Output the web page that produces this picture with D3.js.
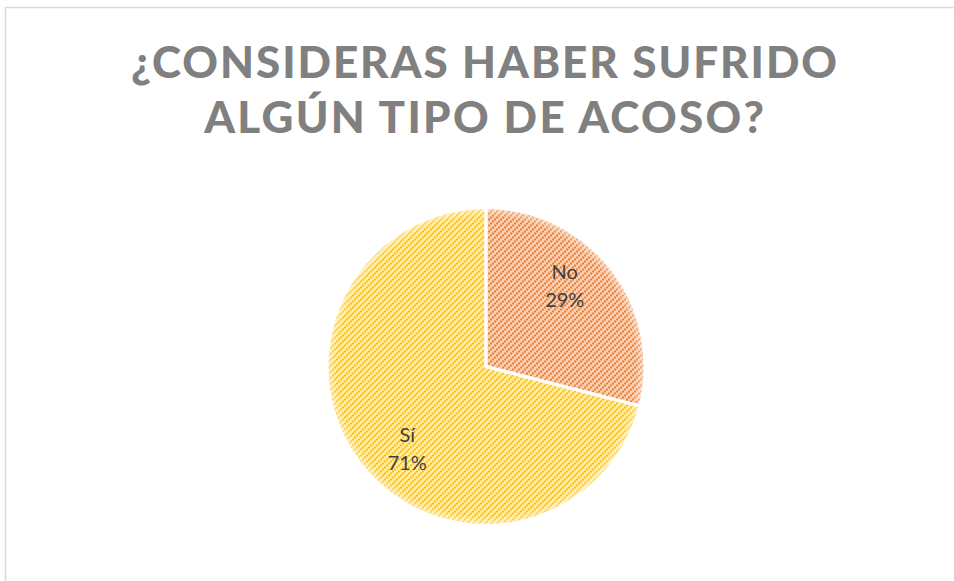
<!DOCTYPE html>
<html><head><meta charset="utf-8">
<script src="https://cdn.jsdelivr.net/npm/d3@7"></script>
<style>
html,body{margin:0;padding:0;background:#fff;}
svg{display:block;}
</style></head>
<body>
<svg id="chart" width="954" height="581"></svg>
<script>
const titleLines = ["¿CONSIDERAS HABER SUFRIDO", "ALGÚN TIPO DE ACOSO?"];
const categories = ["No", "Sí"];
const values = [29, 71];
const labels = ["29%", "71%"];
const stripeColors = ["#ED7D31", "#FFC000"];
const baseColors = ["#F9D0B5", "#FFEBAD"];

const W = 954, H = 581;
const svg = d3.select("#chart");

// chart area border
svg.append("rect").attr("x", 5.5).attr("y", 7.5).attr("width", 1000).attr("height", 700)
  .attr("fill", "#fff").attr("stroke", "#d9d9d9").attr("stroke-width", 1.5);

const defs = svg.append("defs");
categories.forEach((c, i) => {
  const p = defs.append("pattern").attr("id", "pat" + i).attr("patternUnits", "userSpaceOnUse")
    .attr("width", 6).attr("height", 6);
  p.append("rect").attr("width", 6).attr("height", 6).attr("fill", baseColors[i]);
  [[0, 4], [2, 2], [4, 0]].forEach(([x, y]) => {
    p.append("rect").attr("x", x).attr("y", y).attr("width", 2).attr("height", 2).attr("fill", stripeColors[i]);
  });
});
const cx = 486, cy = 366.5, R = 159;
const rg = defs.append("radialGradient").attr("id", "soft").attr("gradientUnits", "userSpaceOnUse")
  .attr("cx", 0).attr("cy", 0).attr("r", R);
rg.append("stop").attr("offset", 0.94).attr("stop-color", "#fff").attr("stop-opacity", 0);
rg.append("stop").attr("offset", 1).attr("stop-color", "#fff").attr("stop-opacity", 0.5);

// title
const title = svg.append("g");
const titleY = [78, 133];
const titleWidths = [708, 562];
const titleCenter = 484;
titleLines.forEach((t, i) => {
  const txt = title.append("text").attr("x", titleCenter).attr("y", titleY[i])
    .attr("text-anchor", "middle")
    .style("font-family", "Lato, 'Open Sans', sans-serif")
    .style("font-weight", "900").style("font-size", "44px").attr("fill", "#808080")
    .style("letter-spacing", "0px").text(t);
  const w0 = txt.node().getComputedTextLength();
  const ls = (titleWidths[i] - w0) / t.length;
  txt.style("letter-spacing", ls + "px").attr("x", titleCenter + ls / 2);
});

// pie
const pie = d3.pie().sort(null).value(d => d)(values);
const arc = d3.arc().innerRadius(0).outerRadius(R);
const g = svg.append("g").attr("transform", `translate(${cx},${cy})`);
g.selectAll("path.slice").data(pie).enter().append("path").attr("class", "slice")
  .attr("d", arc).attr("fill", (d, i) => `url(#pat${i})`);
g.selectAll("path.soft").data(pie).enter().append("path").attr("class", "soft")
  .attr("d", arc).attr("fill", "url(#soft)");
g.selectAll("path.sep").data(pie).enter().append("path").attr("class", "sep")
  .attr("d", arc).attr("fill", "none").attr("stroke", "#fff").attr("stroke-width", 3)
  .attr("stroke-linejoin", "round");

// labels
const labelR = 113, adj = -0.14;
pie.forEach((d, i) => {
  const a = (d.startAngle + d.endAngle) / 2 + adj;
  const x = Math.sin(a) * labelR, y = -Math.cos(a) * labelR;
  const t = g.append("text").attr("text-anchor", "middle")
    .style("font-family", "Lato, 'Open Sans', sans-serif")
    .style("font-size", "20px").attr("fill", "#404040");
  t.append("tspan").attr("x", x).attr("y", y - 6).text(categories[i]);
  t.append("tspan").attr("x", x).attr("y", y + 22).text(labels[i]);
});
</script>
</body></html>
